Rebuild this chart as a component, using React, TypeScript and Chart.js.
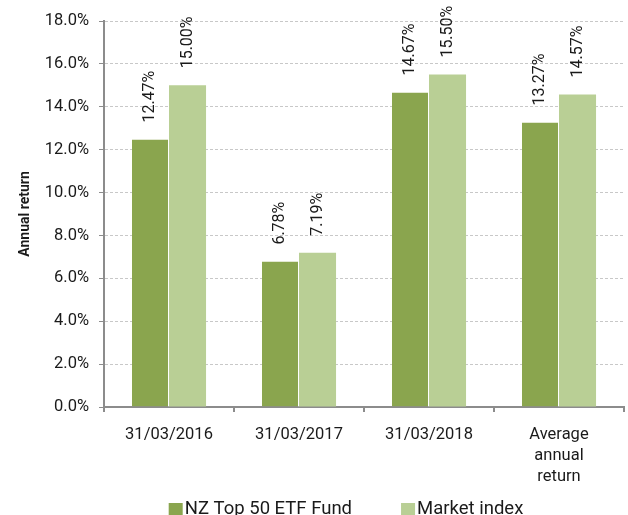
import React, { useEffect, useRef } from "react";
import { Chart, registerables } from "chart.js";

Chart.register(...registerables);

const categories: (string | string[])[] = ["31/03/2016", "31/03/2017", "31/03/2018", ["Average", "annual", "return"]];
const fundValues = [12.47, 6.78, 14.67, 13.27];
const indexValues = [15.0, 7.19, 15.5, 14.57];
const seriesNames = ["NZ Top 50 ETF Fund", "Market index"];
const seriesColors = ["#8aa54e", "#b9cf95"];
const yMax = 18;
const yStep = 2;

const FONT = "Roboto, 'Open Sans', sans-serif";

const valueLabels = {
  id: "valueLabels",
  afterDatasetsDraw(chart: any) {
    const ctx = chart.ctx;
    ctx.save();
    ctx.font = `16px ${FONT}`;
    ctx.fillStyle = "#1a1a1a";
    ctx.textAlign = "left";
    ctx.textBaseline = "middle";
    chart.data.datasets.forEach((ds: any, di: number) => {
      const meta = chart.getDatasetMeta(di);
      meta.data.forEach((bar: any, i: number) => {
        const v = ds.data[i];
        ctx.save();
        ctx.translate(bar.x, bar.y - 17);
        ctx.rotate(-Math.PI / 2);
        ctx.fillText(v.toFixed(2) + "%", 0, 0);
        ctx.restore();
      });
    });
    ctx.restore();
  },
};

const bottomLegend = {
  id: "bottomLegend",
  afterDraw(chart: any) {
    const ctx = chart.ctx;
    ctx.save();
    ctx.font = `18.5px ${FONT}`;
    ctx.textBaseline = "alphabetic";
    ctx.textAlign = "left";
    const box = 14;
    const gapText = 2;
    const gapItems = 49;
    const widths = chart.data.datasets.map((ds: any) => box + gapText + ctx.measureText(ds.label).width);
    const total = widths.reduce((a: number, b: number) => a + b, 0) + gapItems * (widths.length - 1);
    let x = (chart.chartArea.left + chart.chartArea.right) / 2 - 18 - total / 2;
    const boxTop = 503;
    const baseline = 514;
    chart.data.datasets.forEach((ds: any, i: number) => {
      ctx.fillStyle = ds.backgroundColor;
      ctx.fillRect(x, boxTop, box, box);
      ctx.fillStyle = "#1a1a1a";
      ctx.fillText(ds.label, x + box + gapText, baseline);
      x += widths[i] + gapItems;
    });
    ctx.restore();
  },
};

export default function App() {
  const ref = useRef<HTMLCanvasElement>(null);
  useEffect(() => {
    const chart = new Chart(ref.current!, {
      type: "bar",
      data: {
        labels: categories,
        datasets: [
          {
            label: seriesNames[0],
            data: fundValues,
            backgroundColor: seriesColors[0],
            borderColor: "#ffffff",
            borderWidth: { right: 1 } as any,
            categoryPercentage: 0.57,
            barPercentage: 1,
          },
          {
            label: seriesNames[1],
            data: indexValues,
            backgroundColor: seriesColors[1],
            categoryPercentage: 0.57,
            barPercentage: 1,
          },
        ],
      },
      options: {
        animation: false,
        responsive: false,
        devicePixelRatio: 1,
        layout: { padding: { top: 21, right: 4, left: 0, bottom: 0 } },
        plugins: {
          legend: { display: false },
          tooltip: { enabled: false },
        },
        scales: {
          x: {
            grid: {
              display: true,
              offset: true,
              drawOnChartArea: false,
              tickLength: 5,
              color: "#8c8c8c",
              lineWidth: 2,
            },
            border: { color: "#8c8c8c", width: 2 },
            ticks: {
              color: "#1a1a1a",
              font: { family: FONT, size: 16.5, lineHeight: 1.27 },
              padding: 12,
              maxRotation: 0,
              autoSkip: false,
            },
            afterFit(scale: any) {
              scale.height = 108;
            },
          },
          y: {
            min: 0,
            max: yMax,
            ticks: {
              stepSize: yStep,
              color: "#1a1a1a",
              font: { family: FONT, size: 16.5 },
              padding: 10,
              callback: (v: any) => Number(v).toFixed(1) + "%",
            },
            grid: {
              color: "#c8c8c8",
              lineWidth: 1,
              tickLength: 5,
              tickColor: "#8c8c8c",
              tickBorderDash: [],
            },
            border: { color: "#8c8c8c", width: 2, dash: [3, 2] } as any,
            title: {
              display: true,
              text: "Annual return",
              color: "#1a1a1a",
              font: { family: FONT, size: 14, weight: "bold" },
              padding: { top: 17, bottom: 0 },
            },
            afterFit(scale: any) {
              scale.width = 104;
            },
          },
        },
      },
      plugins: [valueLabels, bottomLegend],
    });
    return () => chart.destroy();
  }, []);
  return (
    <div style={{ position: "fixed", left: 0, top: 0, width: 628, height: 515, overflow: "hidden", background: "#fff" }}>
      <canvas ref={ref} width={628} height={515} />
    </div>
  );
}
